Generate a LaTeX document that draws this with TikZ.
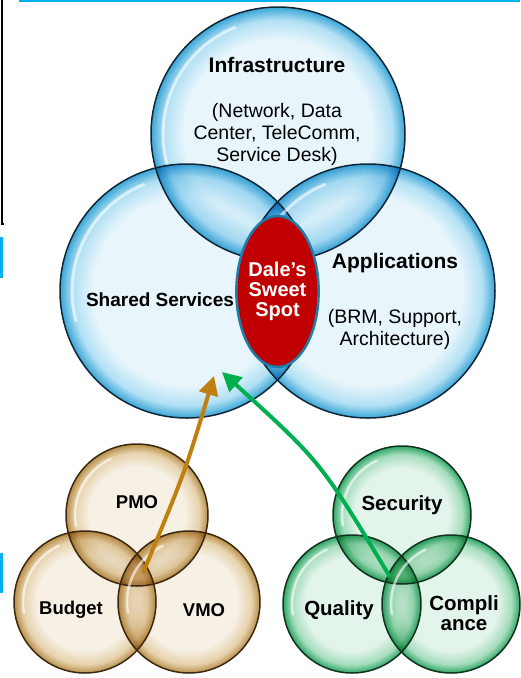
\documentclass[tikz,border=0pt]{standalone}
\usepackage{fontspec}
\setmainfont{Liberation Sans}
\usetikzlibrary{shapes.geometric,arrows.meta}

\definecolor{skyin}{HTML}{E8F6FC}
\definecolor{skymid}{HTML}{B2E0F4}
\definecolor{skyout}{HTML}{3AA6D6}
\definecolor{skyedge}{HTML}{0E2636}
\definecolor{tanin}{HTML}{F7F0E5}
\definecolor{tanmid}{HTML}{E6D2AC}
\definecolor{tanout}{HTML}{B88E48}
\definecolor{tanedge}{HTML}{3A2910}
\definecolor{mintin}{HTML}{E3F4EA}
\definecolor{mintmid}{HTML}{A5DDBD}
\definecolor{mintout}{HTML}{2EA565}
\definecolor{mintedge}{HTML}{10331F}
\definecolor{spotred}{HTML}{C00000}
\definecolor{spotrim}{HTML}{1E7DAA}
\definecolor{barcyan}{HTML}{00B0F0}
\definecolor{arrowtan}{HTML}{C0800F}
\definecolor{arrowgreen}{HTML}{00B050}

\pgfdeclareradialshading{skybubble}{\pgfpoint{0bp}{0bp}}{color(0bp)=(skyin); color(18.5bp)=(skyin); color(22.5bp)=(skymid); color(25bp)=(skyout); color(50bp)=(skyout)}
\pgfdeclareradialshading{tanbubble}{\pgfpoint{0bp}{0bp}}{color(0bp)=(tanin); color(17bp)=(tanin); color(22bp)=(tanmid); color(25bp)=(tanout); color(50bp)=(tanout)}
\pgfdeclareradialshading{mintbubble}{\pgfpoint{0bp}{0bp}}{color(0bp)=(mintin); color(17bp)=(mintin); color(22bp)=(mintmid); color(25bp)=(mintout); color(50bp)=(mintout)}

\begin{document}
\begin{tikzpicture}[x=1pt,y=-1pt]
   \tikzstyle{every node}=[inner sep=0pt, outer sep=0pt]
   \tikzstyle{skyball}=[circle, shade, shading=skybubble, minimum size=254pt]
   \tikzstyle{tanball}=[circle, shade, shading=tanbubble, minimum size=142pt]
   \tikzstyle{mintball}=[circle, shade, shading=mintbubble, minimum size=138pt]
   \tikzstyle{gleam}=[white, line width=3pt, line cap=round, opacity=0.6]
   \tikzstyle{title}=[font=\fontsize{21}{23}\selectfont\bfseries]
   \tikzstyle{note}=[font=\fontsize{19.5}{22}\selectfont, align=center]
   \tikzstyle{tanlabel}=[font=\fontsize{18.5}{20}\selectfont\bfseries]
   \tikzstyle{mintlabel}=[font=\fontsize{20.5}{20}\selectfont\bfseries, align=center]
   \tikzstyle{feed}=[line width=4pt, -{Triangle[length=19pt,width=19pt]}]

\useasboundingbox (0,0) rectangle (520,678);

\draw[barcyan, line width=2.5pt] (19,1) -- (520,1);
\draw[line width=2pt] (1.5,0) |- (4,224);
\fill[barcyan] (0,237) rectangle (3,278);
\fill[barcyan] (0,553) rectangle (3,593);

\begin{scope}[blend mode=multiply]
\node[skyball] (infra) at (278,134) {};
\node[skyball] (shared) at (187,291) {};
\node[skyball] (apps) at (368,291) {};
\node[tanball] (pmo) at (137,515) {};
\node[tanball] (budget) at (85,602) {};
\node[tanball] (vmo) at (189,602) {};
\node[mintball] (security) at (402,515) {};
\node[mintball] (quality) at (352,604) {};
\node[mintball] (compliance) at (451,604) {};
\end{scope}

\foreach \n in {infra,shared,apps}{
    \draw[gleam] ([shift={(112:115pt)}]\n.center) arc[start angle=112, end angle=195, radius=115pt];
    \draw[skyedge, line width=1.5pt] (\n.center) circle [radius=127pt];
}
\foreach \n in {pmo,budget,vmo}{
    \draw[gleam, line width=2.5pt] ([shift={(115:62pt)}]\n.center) arc[start angle=115, end angle=190, radius=62pt];
    \draw[tanedge, line width=1.5pt] (\n.center) circle [radius=71pt];
}
\foreach \n in {security,quality,compliance}{
    \draw[gleam, line width=2.5pt] ([shift={(115:60pt)}]\n.center) arc[start angle=115, end angle=190, radius=60pt];
    \draw[mintedge, line width=1.5pt] (\n.center) circle [radius=69pt];
}

\node[title] (infratitle) at (277,65) {Infrastructure};
\node[note] (infranote) at (277,134) {(Network, Data\\Center, TeleComm,\\Service Desk)};
\node[title, font=\fontsize{19}{21}\selectfont\bfseries] (sharedtitle) at (160,300) {Shared Services};
\node[title] (appstitle) at (395,263) {Applications};
\node[note] (appsnote) at (395,329) {(BRM, Support,\\Architecture)};

\node[ellipse, fill=spotred, draw=spotrim, line width=2.5pt, minimum width=73pt, minimum height=151pt,
      text=white, align=center, font=\fontsize{20}{20}\selectfont\bfseries] (spot) at (277.5,291.5) {Dale’s\\Sweet\\Spot};

\node[tanlabel] (pmotext) at (137,502) {PMO};
\node[tanlabel] (budgettext) at (71,610) {Budget};
\node[tanlabel] (vmotext) at (204,610) {VMO};
\node[mintlabel] (securitytext) at (402,505) {Security};
\node[mintlabel] (qualitytext) at (339,610) {Quality};
\node[mintlabel] (compliancetext) at (464,613) {Compli\\ance};

\coordinate (tanfoot) at (143,573);
\coordinate (tantip) at (214,376);
\coordinate (mintfoot) at (390,577);
\coordinate (minttip) at (222,372);
\draw[feed, arrowtan] (tanfoot) .. controls (185,472) .. (tantip);
\draw[feed, arrowgreen] (mintfoot) .. controls (321,462) .. (minttip);

\end{tikzpicture}
\end{document}
